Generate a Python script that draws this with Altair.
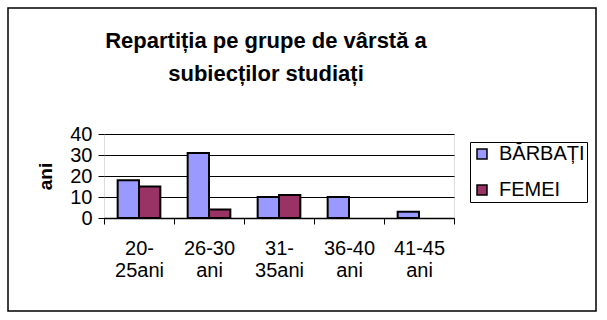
import altair as alt
import pandas as pd

categories = ["20-|25ani", "26-30|ani", "31-|35ani", "36-40|ani", "41-45|ani"]
barbati = [18, 31, 10, 10, 3]
femei = [15, 4, 11, 0, 0]
series = ["BĂRBAȚI", "FEMEI"]
colors = ["#9999FF", "#993366"]
title_lines = ["Repartiția pe grupe de vârstă a", "subiecților studiați"]
y_ticks = [0, 10, 20, 30, 40]

rows = []
for c, b, f in zip(categories, barbati, femei):
    rows.append({"cat": c, "series": series[0], "val": b})
    rows.append({"cat": c, "series": series[1], "val": f})
df = pd.DataFrame(rows)

FONT = "Liberation Sans"
W, H = 350, 84
L, T = 104, 134

bars = alt.Chart(df).transform_filter("datum.val > 0").mark_bar(
    stroke="black", strokeWidth=2).encode(
    x=alt.X("cat:N", sort=categories, title=None,
            scale=alt.Scale(domain=categories, paddingInner=0, paddingOuter=0),
            axis=alt.Axis(labelExpr="split(datum.label, '|')", labelAngle=0,
                          labelFontSize=20, labelFont=FONT, labelColor="black",
                          labelLineHeight=22, labelPadding=14,
                          tickBand="extent", tickSize=6, tickColor="black",
                          domainColor="black", domainWidth=1.5, grid=False)),
    xOffset=alt.XOffset("series:N", sort=series,
                        scale=alt.Scale(domain=series, paddingInner=0, paddingOuter=0.64)),
    y=alt.Y("val:Q", title="ani",
            scale=alt.Scale(domain=[0, 40], nice=False),
            axis=alt.Axis(values=y_ticks, labelFontSize=20, labelFont=FONT,
                          labelColor="black", labelPadding=6,
                          tickSize=6, tickColor="black", domain=False,
                          grid=True, gridColor="black", gridWidth=1,
                          titleFont=FONT, titleFontSize=19, titleFontWeight="bold",
                          titleColor="black", titlePadding=14)),
    color=alt.Color("series:N", sort=series,
                    scale=alt.Scale(domain=series, range=colors),
                    legend=alt.Legend(title=None, orient="none",
                                      legendX=366, legendY=8,
                                      symbolType="square", symbolSize=100,
                                      symbolStrokeColor="black", symbolStrokeWidth=1.5,
                                      labelFontSize=20, labelFont=FONT, labelColor="black",
                                      labelOffset=7, rowPadding=16,
                                      strokeColor="black", padding=2)),
)

border = alt.Chart(pd.DataFrame({"a": [0]})).mark_rect(
    fill=None, stroke="black", strokeWidth=1.5).encode(
    x=alt.value(-96), x2=alt.value(492), y=alt.value(-126), y2=alt.value(177))

chart = alt.layer(border, bars).properties(
    width=W, height=H,
    autosize=alt.AutoSizeParams(type="none"),
    padding={"left": L, "top": T, "right": 607 - L - W, "bottom": 320 - T - H},
    title=alt.TitleParams(text=title_lines, fontSize=22, fontWeight="bold",
                          font=FONT, color="black", anchor="middle", dx=-13,
                          lineHeight=33, offset=-79, frame="group"),
).configure_view(fill="#C0C0C0", stroke="#808080", strokeWidth=2
).configure(background="white")

chart.save("out.html", embed_options={"renderer": "svg", "actions": False})
